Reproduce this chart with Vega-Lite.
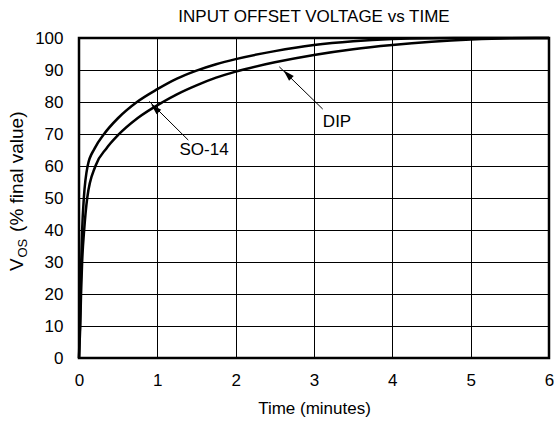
{
  "$schema": "https://vega.github.io/schema/vega-lite/v6.json",
  "width": 470,
  "height": 320,
  "autosize": {"type": "none"},
  "padding": {"left": 79, "top": 38, "right": 5, "bottom": 68},
  "background": "white",
  "title": {"text": "INPUT OFFSET VOLTAGE vs TIME", "font": "Liberation Sans", "fontSize": 17, "fontWeight": "normal", "color": "black", "anchor": "middle", "offset": 3},
  "config": {
    "view": {"stroke": "black", "strokeWidth": 2.5},
    "font": "Liberation Sans"
  },
  "datasets": {
    "curves": [
      {"series": "SO-14", "t": 0, "v": 0}, {"series": "SO-14", "t": 0.005, "v": 5}, {"series": "SO-14", "t": 0.012, "v": 10}, {"series": "SO-14", "t": 0.02, "v": 20}, {"series": "SO-14", "t": 0.028, "v": 30}, {"series": "SO-14", "t": 0.04, "v": 40}, {"series": "SO-14", "t": 0.062, "v": 50}, {"series": "SO-14", "t": 0.11, "v": 60}, {"series": "SO-14", "t": 0.2, "v": 65.5}, {"series": "SO-14", "t": 0.32, "v": 70}, {"series": "SO-14", "t": 0.5, "v": 75}, {"series": "SO-14", "t": 0.74, "v": 80}, {"series": "SO-14", "t": 1.0, "v": 84}, {"series": "SO-14", "t": 1.25, "v": 87.3}, {"series": "SO-14", "t": 1.5, "v": 89.8}, {"series": "SO-14", "t": 1.75, "v": 91.8}, {"series": "SO-14", "t": 2.0, "v": 93.4}, {"series": "SO-14", "t": 2.5, "v": 95.9}, {"series": "SO-14", "t": 3.0, "v": 97.8}, {"series": "SO-14", "t": 3.5, "v": 99.0}, {"series": "SO-14", "t": 4.0, "v": 99.7}, {"series": "SO-14", "t": 4.5, "v": 99.95}, {"series": "SO-14", "t": 5.0, "v": 100}, {"series": "SO-14", "t": 6.0, "v": 100},
      {"series": "DIP", "t": 0, "v": 0}, {"series": "DIP", "t": 0.008, "v": 5}, {"series": "DIP", "t": 0.016, "v": 10}, {"series": "DIP", "t": 0.026, "v": 20}, {"series": "DIP", "t": 0.04, "v": 30}, {"series": "DIP", "t": 0.066, "v": 40}, {"series": "DIP", "t": 0.105, "v": 50}, {"series": "DIP", "t": 0.21, "v": 60}, {"series": "DIP", "t": 0.35, "v": 65.5}, {"series": "DIP", "t": 0.5, "v": 69.7}, {"series": "DIP", "t": 0.75, "v": 75}, {"series": "DIP", "t": 1.07, "v": 80}, {"series": "DIP", "t": 1.25, "v": 82.4}, {"series": "DIP", "t": 1.5, "v": 85.2}, {"series": "DIP", "t": 1.75, "v": 87.6}, {"series": "DIP", "t": 2.0, "v": 89.5}, {"series": "DIP", "t": 2.5, "v": 92.4}, {"series": "DIP", "t": 3.0, "v": 94.7}, {"series": "DIP", "t": 3.5, "v": 96.5}, {"series": "DIP", "t": 4.0, "v": 97.8}, {"series": "DIP", "t": 4.5, "v": 98.8}, {"series": "DIP", "t": 5.0, "v": 99.5}, {"series": "DIP", "t": 5.5, "v": 99.9}, {"series": "DIP", "t": 6.0, "v": 100}
    ],
    "arrows": [
      {"label": "SO-14", "t": 1.395, "v": 68.1, "t2": 0.897, "v2": 80.2},
      {"label": "DIP", "t": 3.111, "v": 77.8, "t2": 2.557, "v2": 91.0}
    ],
    "heads": [
      {"label": "SO-14", "t": 0.97, "v": 78.1},
      {"label": "DIP", "t": 2.662, "v": 88.6}
    ],
    "labels": [
      {"label": "SO-14", "t": 1.596, "v": 65.0},
      {"label": "DIP", "t": 3.294, "v": 73.75}
    ],
    "ytitle_main": [
      {"text": "V", "t": -0.715, "v": 27.2},
      {"text": "(% final value)", "t": -0.715, "v": 39.4}
    ],
    "ytitle_sub": [
      {"text": "OS", "t": -0.715, "v": 31.4}
    ]
  },
  "encoding": {
    "x": {"field": "t", "type": "quantitative", "scale": {"domain": [0, 6], "nice": false},
      "axis": {"values": [0, 1, 2, 3, 4, 5, 6], "format": "d", "labelOverlap": false, "grid": true, "gridColor": "black", "gridOpacity": 1, "gridWidth": 1, "domain": false, "ticks": false, "labelFont": "Liberation Sans", "labelFontSize": 17, "labelColor": "black", "labelPadding": 14, "labelFlush": false, "title": "Time (minutes)", "titleFont": "Liberation Sans", "titleFontSize": 17, "titleFontWeight": "normal", "titleColor": "black", "titlePadding": 12}},
    "y": {"field": "v", "type": "quantitative", "scale": {"domain": [0, 100], "nice": false},
      "axis": {"values": [0, 10, 20, 30, 40, 50, 60, 70, 80, 90, 100], "format": "d", "labelOverlap": false, "grid": true, "gridColor": "black", "gridOpacity": 1, "gridWidth": 1, "domain": false, "ticks": false, "labelFont": "Liberation Sans", "labelFontSize": 17, "labelColor": "black", "labelPadding": 16, "labelFlush": false, "title": null}}
  },
  "layer": [
    {
      "data": {"name": "curves"},
      "mark": {"type": "line", "color": "black", "strokeWidth": 2.5, "interpolate": "monotone"},
      "encoding": {
        "detail": {"field": "series", "type": "nominal"}
      }
    },
    {
      "data": {"name": "arrows"},
      "mark": {"type": "rule", "color": "black", "strokeWidth": 1},
      "encoding": {
        "x2": {"field": "t2"},
        "y2": {"field": "v2"}
      }
    },
    {
      "data": {"name": "heads"},
      "mark": {"type": "point", "shape": "M0,-1L0.6,1L-0.6,1Z", "filled": true, "color": "black", "opacity": 1, "size": 121, "angle": 315},
      "encoding": {}
    },
    {
      "data": {"name": "labels"},
      "mark": {"type": "text", "font": "Liberation Sans", "fontSize": 17, "color": "black", "align": "center", "baseline": "middle"},
      "encoding": {
        "text": {"field": "label"}
      }
    },
    {
      "data": {"name": "ytitle_main"},
      "mark": {"type": "text", "font": "Liberation Sans", "fontSize": 19, "color": "black", "align": "left", "baseline": "alphabetic", "angle": 270},
      "encoding": {
        "text": {"field": "text"}
      }
    },
    {
      "data": {"name": "ytitle_sub"},
      "mark": {"type": "text", "font": "Liberation Sans", "fontSize": 13, "color": "black", "align": "left", "baseline": "alphabetic", "angle": 270, "dy": 4},
      "encoding": {
        "text": {"field": "text"}
      }
    }
  ]
}
